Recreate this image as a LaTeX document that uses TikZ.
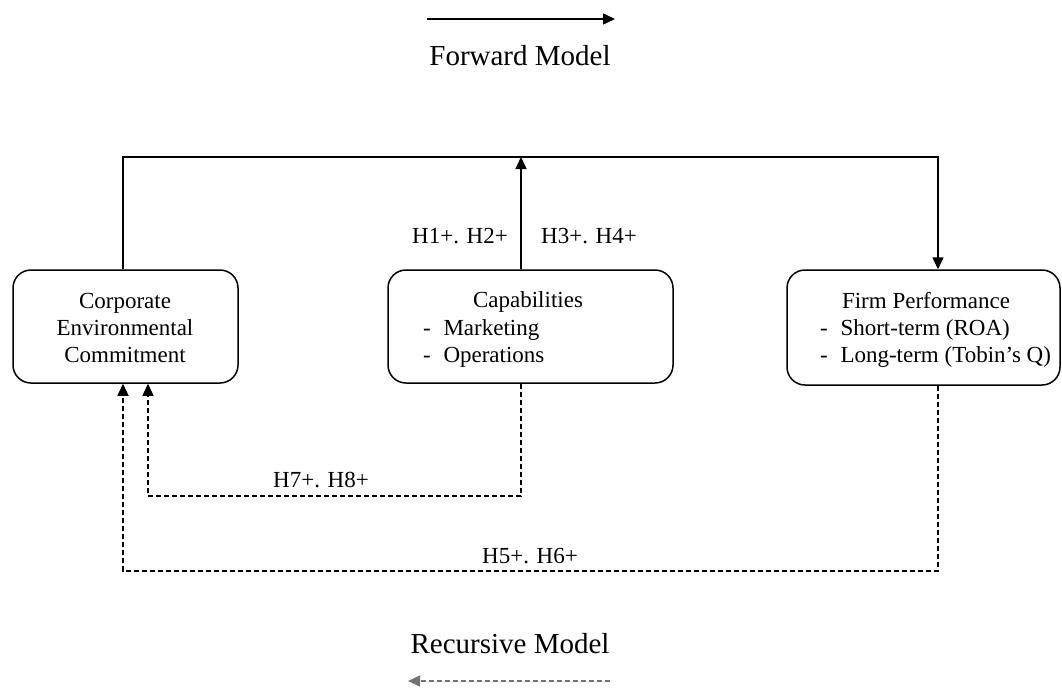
\documentclass[tikz,border=0pt]{standalone}
\usepackage{fontspec}
\setmainfont{Liberation Serif}
\usetikzlibrary{arrows.meta}
\tikzset{
  box/.style={draw, line width=1.5pt, rounded corners=18pt, inner sep=0pt},
  lbl/.style={font=\fontsize{23}{26}\selectfont, inner sep=0pt},
  head/.style={font=\fontsize{29}{32}\selectfont, inner sep=0pt},
  fwd/.style={line width=1.5pt, -{Triangle[length=12pt,width=11pt]}},
  rec/.style={line width=1.5pt, dash pattern=on 5pt off 3pt, -{Triangle[length=12pt,width=11pt]}},
}
\begin{document}
\begin{tikzpicture}[x=1pt,y=-1pt]
\useasboundingbox (0,0) rectangle (1062,689);
% legend
\coordinate (fa1) at (427,19);
\coordinate (fa2) at (615,19);
\draw[fwd] (fa1) -- (fa2);
\node[head, anchor=base] (fm) at (520,65) {Forward Model};
\node[head, anchor=base] (rm) at (510,653) {Recursive Model};
\coordinate (ra1) at (610,681);
\coordinate (ra2) at (408,681);
\draw[rec, draw=black!55, fill=black!55] (ra1) -- (ra2);
% boxes
\node[box, minimum width=225, minimum height=113] (ce) at (125.5,326.5) {};
\node[box, minimum width=285, minimum height=113] (cap) at (530.5,326.5) {};
\node[box, minimum width=273, minimum height=115] (fp) at (923.5,327.5) {};
% box texts
\node[lbl, anchor=base] (ce1) at (125,308) {Corporate};
\node[lbl, anchor=base] (ce2) at (125,335) {Environmental};
\node[lbl, anchor=base] (ce3) at (125,362) {Commitment};
\node[lbl, anchor=base] (cp1) at (528,307) {Capabilities};
\node[lbl, anchor=base west] (cp2) at (423,335) {-\hspace{0.55em}Marketing};
\node[lbl, anchor=base west] (cp3) at (423,362) {-\hspace{0.55em}Operations};
\node[lbl, anchor=base] (fp1) at (926,308) {Firm Performance};
\node[lbl, anchor=base west] (fp2) at (820,335) {-\hspace{0.55em}Short-term (ROA)};
\node[lbl, anchor=base west] (fp3) at (820,362) {-\hspace{0.55em}Long-term (Tobin's Q)};
% forward connectors
\coordinate (tl) at (123,157);
\coordinate (tr) at (938,157);
\coordinate (mx) at (521,157);
\draw[fwd] (ce.north -| tl) -- (tl) -- (tr) -- (fp.north -| tr);
\draw[fwd] (cap.north -| mx) -- (mx);
\node[lbl, anchor=base] (h12) at (460,243) {H1+. H2+};
\node[lbl, anchor=base] (h34) at (589,243) {H3+. H4+};
% recursive connectors
\coordinate (d1) at (521,496);
\coordinate (d1e) at (148,496);
\draw[rec] (cap.south -| d1) -- (d1) -- (d1e) -- (ce.south -| d1e);
\node[lbl, anchor=base] (h78) at (321,487) {H7+. H8+};
\coordinate (d2) at (938,571);
\coordinate (d2e) at (123,571);
\draw[rec] (fp.south -| d2) -- (d2) -- (d2e) -- (ce.south -| d2e);
\node[lbl, anchor=base] (h56) at (530,563) {H5+. H6+};
\end{tikzpicture}
\end{document}
